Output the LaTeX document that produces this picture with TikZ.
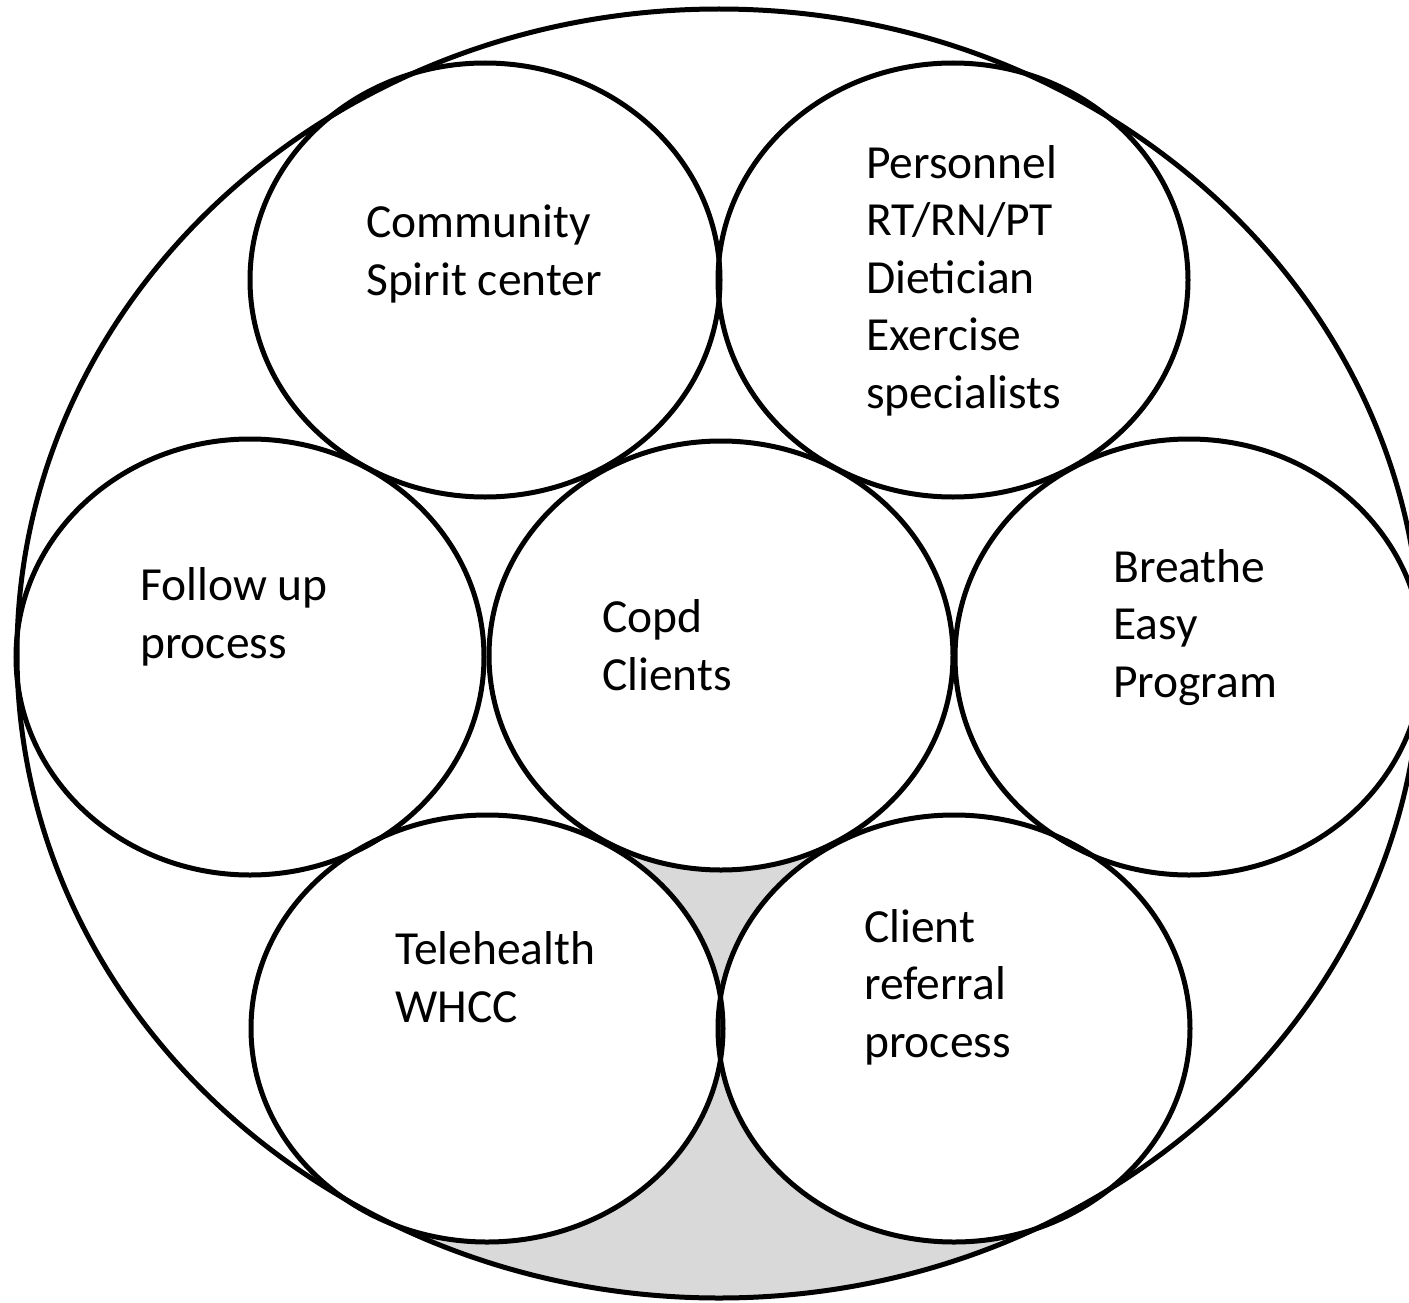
\documentclass[tikz,border=0pt]{standalone}
\usepackage{fontspec}
\setmainfont{Carlito}
\definecolor{gapgray}{RGB}{217,217,217}
\begin{document}
\begin{tikzpicture}[x=1pt,y=-1pt,
  ring/.style={draw=black,line width=5pt},
  blank/.style={fill=white},
  lbl/.style={anchor=base west,align=left,inner sep=0pt,
    font=\fontsize{47.5}{57.5}\selectfont}]
\useasboundingbox (0,0) rectangle (1409,1303);
% shaded gap at the bottom
\begin{scope}
  \clip (719,653.5) ellipse [x radius=702pt,y radius=644.5pt];
  \fill[gapgray] (430,845) rectangle (998,1310);
\end{scope}
% white interiors
\foreach \cx/\cy/\rx/\ry in {485/280/235/217, 953/280/235/217,
  250/657/234/218, 721/655.5/232/214.5, 1189/657/234/218,
  487/1028.5/236/213.5, 954/1028.5/236/213.5}
  \fill[blank] (\cx,\cy) ellipse [x radius=\rx pt,y radius=\ry pt];
% outlines
\draw[ring] (719,653.5) ellipse [x radius=702pt,y radius=644.5pt];
\foreach \cx/\cy/\rx/\ry in {485/280/235/217, 953/280/235/217,
  250/657/234/218, 721/655.5/232/214.5, 1189/657/234/218,
  487/1028.5/236/213.5, 954/1028.5/236/213.5}
  \draw[ring] (\cx,\cy) ellipse [x radius=\rx pt,y radius=\ry pt];
% labels (anchored at the baseline of the last line)
\node[lbl] (community) at (366,295) {Community\\Spirit center};
\node[lbl] (personnel) at (866,408) {Personnel\\RT/RN/PT\\Dietician\\Exercise\\specialists};
\node[lbl] (followup) at (140,658) {Follow up\\process};
\node[lbl] (copd) at (602,690) {Copd\\Clients};
\node[lbl] (breathe) at (1113,697) {Breathe\\Easy\\Program};
\node[lbl] (telehealth) at (395,1022) {Telehealth\\WHCC};
\node[lbl] (referral) at (864,1057) {Client\\referral\\process};
\end{tikzpicture}
\end{document}
